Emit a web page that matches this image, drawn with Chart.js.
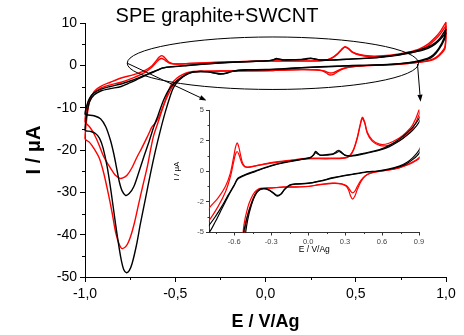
<!DOCTYPE html>
<html><head><meta charset="utf-8">
<script src="https://cdn.jsdelivr.net/npm/chart.js@4.4.1/dist/chart.umd.min.js"></script>
<style>
html,body{margin:0;padding:0;background:#fff;}
#wrap{position:relative;width:464px;height:335px;overflow:hidden;}
#main{position:absolute;left:0;top:0;}
#inset{position:absolute;left:160px;top:100px;}
</style></head><body>
<div id="wrap"><canvas id="main" width="464" height="335"></canvas><canvas id="inset" width="270" height="160"></canvas></div>
<script>
// ---------- DATA: potential E (V vs Ag) and current I (µA) ----------
const blackCycle1Cathodic = [[1.0,8.6],[0.99,6.5],[0.96,4.0],[0.93,2.5],[0.9,1.7],[0.85,1.1],[0.8,0.7],[0.74,0.4],[0.65,0.15],[0.56,0.0],[0.48,-0.05],[0.4,-0.2],[0.3,-0.35],[0.2,-0.55],[0.1,-0.8],[0.0,-1.0],[-0.1,-1.05],[-0.15,-1.15],[-0.19,-1.5],[-0.22,-1.9],[-0.25,-2.07],[-0.28,-1.85],[-0.32,-1.55],[-0.36,-1.45],[-0.4,-1.55],[-0.43,-1.95],[-0.46,-2.8],[-0.49,-4.0],[-0.51,-5.3],[-0.526,-7.0],[-0.555,-11.0],[-0.582,-15.3],[-0.61,-20.2],[-0.637,-25.5],[-0.665,-31.5],[-0.693,-37.4],[-0.715,-42.5],[-0.739,-46.8],[-0.755,-48.5],[-0.77,-49.0],[-0.785,-48.3],[-0.8,-45.8],[-0.815,-42.0],[-0.831,-37.4],[-0.855,-30.0],[-0.877,-24.0],[-0.9,-19.5],[-0.92,-17.2],[-0.942,-16.1],[-0.97,-15.6],[-1.0,-15.3]];
const blackCycle1Anodic = [[-0.99,-11.5],[-0.975,-8.6],[-0.95,-7.0],[-0.91,-6.0],[-0.86,-5.5],[-0.8,-5.0],[-0.75,-4.1],[-0.7,-3.1],[-0.65,-2.1],[-0.6,-1.2],[-0.57,-0.65],[-0.5,-0.3],[-0.43,-0.05],[-0.35,0.25],[-0.25,0.55],[-0.16,0.75],[-0.05,0.95],[0.02,1.1],[0.045,1.35],[0.06,1.6],[0.075,1.5],[0.1,1.3],[0.15,1.35],[0.2,1.4],[0.23,1.6],[0.25,1.7],[0.27,1.55],[0.3,1.3],[0.35,1.25],[0.45,1.45],[0.58,1.75],[0.66,2.1],[0.74,2.6],[0.8,3.1],[0.85,3.6],[0.9,4.3],[0.94,5.3],[0.97,6.6],[1.0,8.6]];
const blackCycle2Cathodic = [[1.0,7.8],[0.99,6.0],[0.96,3.7],[0.93,2.2],[0.9,1.45],[0.85,0.95],[0.8,0.6],[0.74,0.35],[0.65,0.12],[0.56,-0.02],[0.48,-0.08],[0.4,-0.22],[0.3,-0.38],[0.2,-0.58],[0.1,-0.83],[0.0,-1.02],[-0.1,-1.08],[-0.15,-1.18],[-0.19,-1.5],[-0.22,-1.88],[-0.25,-2.0],[-0.28,-1.8],[-0.32,-1.55],[-0.36,-1.45],[-0.4,-1.6],[-0.43,-2.0],[-0.46,-2.7],[-0.49,-3.6],[-0.51,-4.4],[-0.536,-5.8],[-0.555,-7.3],[-0.572,-9.0],[-0.595,-11.8],[-0.619,-14.5],[-0.645,-18.0],[-0.674,-21.6],[-0.7,-25.0],[-0.73,-28.7],[-0.755,-30.3],[-0.776,-30.7],[-0.795,-29.6],[-0.81,-27.5],[-0.822,-24.9],[-0.84,-21.0],[-0.859,-17.7],[-0.885,-14.5],[-0.914,-12.6],[-0.95,-11.9],[-1.0,-11.5]];
const blackCycle2Anodic = [[-0.99,-9.5],[-0.975,-7.8],[-0.95,-6.5],[-0.91,-5.6],[-0.86,-5.0],[-0.8,-4.4],[-0.75,-3.7],[-0.7,-2.9],[-0.65,-2.0],[-0.6,-1.15],[-0.57,-0.6],[-0.5,-0.25],[-0.43,0.0],[-0.35,0.28],[-0.25,0.58],[-0.16,0.78],[-0.05,0.97],[0.02,1.12],[0.045,1.3],[0.06,1.5],[0.075,1.42],[0.1,1.28],[0.15,1.3],[0.2,1.35],[0.23,1.5],[0.25,1.6],[0.27,1.5],[0.3,1.28],[0.35,1.22],[0.45,1.4],[0.58,1.7],[0.66,2.0],[0.74,2.45],[0.8,2.9],[0.85,3.35],[0.9,4.0],[0.94,5.0],[0.97,6.2],[1.0,7.8]];
const redCycle1Cathodic = [[1.0,10.2],[0.995,4.5],[0.96,2.4],[0.93,1.5],[0.9,1.1],[0.85,0.75],[0.8,0.5],[0.74,0.28],[0.65,0.08],[0.56,-0.05],[0.5,-0.2],[0.46,-0.45],[0.43,-0.85],[0.4,-1.5],[0.38,-2.05],[0.36,-2.3],[0.345,-2.05],[0.33,-1.6],[0.31,-1.25],[0.27,-1.05],[0.2,-1.0],[0.1,-1.1],[0.0,-1.25],[-0.1,-1.3],[-0.2,-1.3],[-0.3,-1.4],[-0.36,-1.42],[-0.4,-1.55],[-0.43,-1.9],[-0.46,-2.6],[-0.49,-3.6],[-0.515,-5.0],[-0.54,-7.0],[-0.563,-9.3],[-0.59,-12.8],[-0.619,-16.5],[-0.637,-20.0],[-0.655,-24.0],[-0.68,-28.5],[-0.702,-32.6],[-0.725,-37.0],[-0.748,-40.5],[-0.77,-42.6],[-0.794,-43.3],[-0.81,-42.3],[-0.83,-39.5],[-0.849,-35.0],[-0.87,-30.5],[-0.896,-25.5],[-0.92,-22.0],[-0.951,-19.6],[-0.975,-18.2],[-1.0,-17.3]];
const redCycle1Anodic = [[-0.99,-12.5],[-0.975,-8.6],[-0.95,-6.2],[-0.91,-4.9],[-0.86,-4.0],[-0.8,-3.0],[-0.73,-2.2],[-0.67,-1.25],[-0.63,-0.15],[-0.605,1.1],[-0.59,1.9],[-0.576,2.3],[-0.563,2.0],[-0.55,1.4],[-0.535,0.75],[-0.515,0.4],[-0.49,0.32],[-0.42,0.45],[-0.3,0.68],[-0.15,0.88],[0.0,1.05],[0.15,1.05],[0.3,1.1],[0.34,1.3],[0.37,1.8],[0.4,2.8],[0.42,3.7],[0.44,4.4],[0.46,4.0],[0.48,3.2],[0.52,2.55],[0.58,2.2],[0.65,2.25],[0.74,2.7],[0.8,3.2],[0.85,3.8],[0.9,5.0],[0.94,6.6],[0.97,8.1],[1.0,10.2]];
const redCycle2Cathodic = [[1.0,9.4],[0.995,4.1],[0.96,2.2],[0.93,1.35],[0.9,1.0],[0.85,0.7],[0.8,0.47],[0.74,0.26],[0.65,0.06],[0.56,-0.06],[0.5,-0.2],[0.46,-0.42],[0.43,-0.75],[0.4,-1.25],[0.38,-1.65],[0.36,-1.8],[0.345,-1.65],[0.33,-1.4],[0.31,-1.2],[0.27,-1.05],[0.2,-1.02],[0.1,-1.12],[0.0,-1.27],[-0.1,-1.32],[-0.2,-1.33],[-0.3,-1.38],[-0.36,-1.4],[-0.4,-1.45],[-0.43,-1.7],[-0.46,-2.2],[-0.49,-3.0],[-0.52,-4.4],[-0.545,-7.0],[-0.568,-9.8],[-0.591,-12.2],[-0.61,-13.6],[-0.628,-14.5],[-0.64,-15.5],[-0.655,-16.9],[-0.685,-19.5],[-0.711,-21.6],[-0.74,-24.2],[-0.766,-25.9],[-0.79,-26.6],[-0.807,-26.7],[-0.825,-26.2],[-0.84,-25.5],[-0.87,-23.5],[-0.896,-21.6],[-0.925,-18.5],[-0.951,-16.1],[-0.975,-14.5],[-1.0,-13.3]];
const redCycle2Anodic = [[-0.99,-10.0],[-0.975,-8.0],[-0.95,-6.5],[-0.91,-5.3],[-0.86,-4.6],[-0.8,-4.0],[-0.73,-2.9],[-0.67,-1.7],[-0.63,-0.45],[-0.605,0.7],[-0.59,1.35],[-0.576,1.6],[-0.563,1.4],[-0.55,1.0],[-0.535,0.6],[-0.515,0.35],[-0.49,0.3],[-0.42,0.42],[-0.3,0.64],[-0.15,0.85],[0.0,1.0],[0.15,1.0],[0.3,1.05],[0.34,1.25],[0.37,1.75],[0.4,2.7],[0.42,3.6],[0.44,4.3],[0.46,3.9],[0.48,3.1],[0.52,2.45],[0.58,2.1],[0.65,2.1],[0.74,2.5],[0.8,2.95],[0.85,3.5],[0.9,4.6],[0.94,6.1],[0.97,7.5],[1.0,9.4]];

// ---------- TICKS ----------
const mainXTickValues = [-1, -0.5, 0, 0.5, 1];
const mainXTickLabels = ['-1,0', '-0,5', '0,0', '0,5', '1,0'];
const mainXMinor = [-0.75, -0.25, 0.25, 0.75];
const mainYTickValues = [-50, -40, -30, -20, -10, 0, 10];
const mainYTickLabels = ['-50', '-40', '-30', '-20', '-10', '0', '10'];
const mainYMinor = [-45, -35, -25, -15, -5, 5];
const insetXTickValues = [-0.6, -0.3, 0, 0.3, 0.6, 0.9];
const insetXTickLabels = ['-0.6', '-0.3', '0.0', '0.3', '0.6', '0.9'];
const insetXMinor = [-0.75, -0.45, -0.15, 0.15, 0.45, 0.75];
const insetYTickValues = [-5, -2.5, 0, 2.5, 5];
const insetYTickLabels = ['-5', '-2', '0', '2', '5'];
const insetYMinor = [-3.75, -1.25, 1.25, 3.75];

const chartTitle = 'SPE graphite+SWCNT';

// callout (ellipse + arrows) in data units of the main chart
const calloutEllipse = {cE: 0.041, cI: 0.5, rE: 0.807, rI: 6.2};
const calloutArrows = [[-0.766, 0.5, -0.327, -8.3], [0.842, 0.3, 0.859, -8.6]];

const FONT = '"Liberation Sans", Arial, Helvetica, sans-serif';
const cycles = [
  {pts: blackCycle2Cathodic.concat(blackCycle2Anodic), color: '#000000'},
  {pts: blackCycle1Cathodic.concat(blackCycle1Anodic), color: '#000000'},
  {pts: redCycle2Cathodic.concat(redCycle2Anodic), color: '#ff0000'},
  {pts: redCycle1Cathodic.concat(redCycle1Anodic), color: '#ff0000'}
];
function makeDatasets(w, clip) {
  return cycles.map(c => ({
    data: c.pts.map(p => ({x: p[0], y: p[1]})),
    borderColor: c.color, backgroundColor: c.color, borderWidth: w,
    pointRadius: 0, showLine: true, tension: 0.3, fill: false, clip: clip
  }));
}
function fixedTicks(values) { return s => { s.ticks = values.map(v => ({value: v})); }; }

const minorTickPlugin = {
  id: 'minorTicks',
  afterDraw(chart, args, o) {
    const ctx = chart.ctx, a = chart.chartArea, sx = chart.scales.x, sy = chart.scales.y;
    ctx.save(); ctx.strokeStyle = o.color; ctx.lineWidth = 1; ctx.beginPath();
    o.x.forEach(v => { const px = Math.round(sx.getPixelForValue(v)) + 0.5; ctx.moveTo(px, a.bottom); ctx.lineTo(px, a.bottom + o.len); });
    o.y.forEach(v => { const py = Math.round(sy.getPixelForValue(v)) + 0.5; ctx.moveTo(a.left, py); ctx.lineTo(a.left - o.len, py); });
    ctx.stroke(); ctx.restore();
  }
};
const titlePlugin = {
  id: 'plotTitle',
  afterDraw(chart, args, o) {
    const ctx = chart.ctx;
    ctx.save(); ctx.fillStyle = '#000'; ctx.font = '20px ' + FONT;
    ctx.textAlign = 'center'; ctx.textBaseline = 'alphabetic';
    ctx.fillText(o.text, o.x, o.y); ctx.restore();
  }
};
const calloutPlugin = {
  id: 'callout',
  afterDatasetsDraw(chart) {
    const ctx = chart.ctx, sx = chart.scales.x, sy = chart.scales.y;
    const cx = sx.getPixelForValue(calloutEllipse.cE), cy = sy.getPixelForValue(calloutEllipse.cI);
    const rx = sx.getPixelForValue(calloutEllipse.cE + calloutEllipse.rE) - cx;
    const ry = cy - sy.getPixelForValue(calloutEllipse.cI + calloutEllipse.rI);
    ctx.save(); ctx.strokeStyle = '#000'; ctx.fillStyle = '#000'; ctx.lineWidth = 1;
    ctx.beginPath(); ctx.ellipse(cx, cy, rx, ry, 0, 0, 2 * Math.PI); ctx.stroke();
    calloutArrows.forEach(a => {
      const x0 = sx.getPixelForValue(a[0]), y0 = sy.getPixelForValue(a[1]);
      const x1 = sx.getPixelForValue(a[2]), y1 = sy.getPixelForValue(a[3]);
      const ang = Math.atan2(y1 - y0, x1 - x0), L = 7, W = 2.6;
      const bx = x1 - L * Math.cos(ang), by = y1 - L * Math.sin(ang);
      ctx.beginPath(); ctx.moveTo(x0, y0); ctx.lineTo(bx, by); ctx.stroke();
      ctx.beginPath(); ctx.moveTo(x1, y1);
      ctx.lineTo(bx + W * Math.sin(ang), by - W * Math.cos(ang));
      ctx.lineTo(bx - W * Math.sin(ang), by + W * Math.cos(ang));
      ctx.closePath(); ctx.fill();
    });
    ctx.restore();
  }
};

function axis(opts) {
  return Object.assign({
    type: 'linear',
    grid: {drawOnChartArea: false, drawTicks: true, tickLength: opts.tl, tickColor: opts.ac, tickWidth: 1},
    border: {display: true, color: opts.ac, width: 1},
    ticks: {font: {family: FONT, size: opts.fs}, color: opts.tc, padding: opts.pad, maxRotation: 0, autoSkip: false,
            callback: (v, i) => opts.labels[i]},
    title: {display: true, text: opts.title, color: '#000', font: opts.tf, padding: opts.tp}
  }, opts.extra);
}

new Chart(document.getElementById('main'), {
  type: 'scatter',
  data: {datasets: makeDatasets(1.4, 3)},
  options: {
    responsive: false, animation: false, devicePixelRatio: 1,
    layout: {padding: {left: 0, right: 18, top: 23, bottom: 0}},
    plugins: {
      legend: {display: false}, tooltip: {enabled: false}, title: {display: false},
      plotTitle: {text: chartTitle, x: 217, y: 22},
      minorTicks: {x: mainXMinor, y: mainYMinor, len: 3, color: '#000'}
    },
    scales: {
      x: axis({tl: 5, ac: '#000', fs: 14, tc: '#000', pad: 4, labels: mainXTickLabels, title: 'E / V/Ag',
               tf: {family: FONT, size: 18, weight: 'bold'}, tp: {top: 0, bottom: 2},
               extra: {min: -1, max: 1, afterBuildTicks: fixedTicks(mainXTickValues), afterFit: s => { s.height = 58; }}}),
      y: axis({tl: 5, ac: '#000', fs: 14, tc: '#000', pad: 3, labels: mainYTickLabels, title: 'I / μA',
               tf: {family: FONT, size: 20, weight: 'bold'}, tp: {top: 22, bottom: 0},
               extra: {min: -50, max: 10, afterBuildTicks: fixedTicks(mainYTickValues), afterFit: s => { s.width = 85; }}})
    }
  },
  plugins: [minorTickPlugin, calloutPlugin, titlePlugin]
});

new Chart(document.getElementById('inset'), {
  type: 'scatter',
  data: {datasets: makeDatasets(1.2, 0.6)},
  options: {
    responsive: false, animation: false, devicePixelRatio: 1,
    layout: {padding: {left: 0, right: 11, top: 10, bottom: 0}},
    plugins: {
      legend: {display: false}, tooltip: {enabled: false}, title: {display: false},
      minorTicks: {x: insetXMinor, y: insetYMinor, len: 2, color: '#333'}
    },
    scales: {
      x: axis({tl: 3.5, ac: '#333', fs: 7.5, tc: '#444', pad: 2, labels: insetXTickLabels, title: 'E / V/Ag',
               tf: {family: FONT, size: 8.5}, tp: {top: 0, bottom: 5},
               extra: {min: -0.8, max: 0.9, afterBuildTicks: fixedTicks(insetXTickValues), afterFit: s => { s.height = 28; }}}),
      y: axis({tl: 3.5, ac: '#333', fs: 7.5, tc: '#444', pad: 2, labels: insetYTickLabels, title: 'I / μA',
               tf: {family: FONT, size: 8}, tp: {top: 12, bottom: 0},
               extra: {min: -5, max: 5, afterBuildTicks: fixedTicks(insetYTickValues), afterFit: s => { s.width = 49.5; }}})
    }
  },
  plugins: [minorTickPlugin]
});
</script>
</body></html>
